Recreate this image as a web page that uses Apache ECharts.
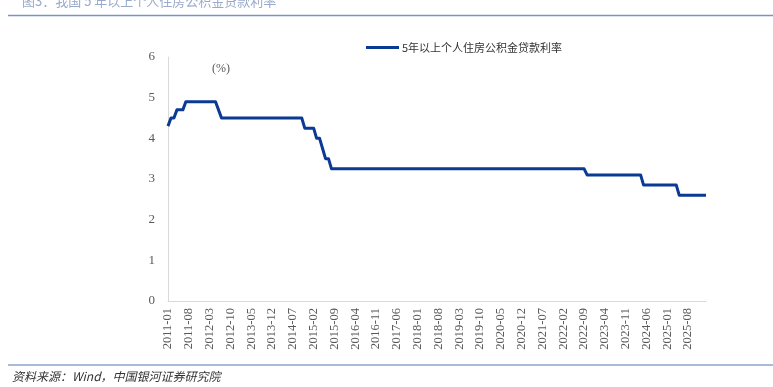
<!DOCTYPE html>
<html>
<head>
<meta charset="utf-8">
<script src="https://cdn.jsdelivr.net/npm/echarts@6/dist/echarts.min.js"></script>
<style>html,body{margin:0;padding:0;background:#fff;}#c{width:773px;height:387px;}</style>
</head>
<body>
<div id="c"></div>
<script>
var seriesName = '5年以上个人住房公积金贷款利率';
var startYear = 2011, endYear = 2026, endMonth = 2;
var categories = [];
for (var y = startYear; y <= endYear; y++) {
  for (var m = 1; m <= 12; m++) {
    if (y === endYear && m > endMonth) break;
    categories.push(y + '-' + (m < 10 ? '0' + m : m));
  }
}
var rate2011 = [4.3, 4.5, 4.5, 4.7, 4.7, 4.7, 4.9, 4.9, 4.9, 4.9, 4.9, 4.9];
var rate2012 = [4.9, 4.9, 4.9, 4.9, 4.9, 4.7, 4.5, 4.5, 4.5, 4.5, 4.5, 4.5];
var rate2013 = [4.5, 4.5, 4.5, 4.5, 4.5, 4.5, 4.5, 4.5, 4.5, 4.5, 4.5, 4.5];
var rate2014 = [4.5, 4.5, 4.5, 4.5, 4.5, 4.5, 4.5, 4.5, 4.5, 4.5, 4.25, 4.25];
var rate2015 = [4.25, 4.25, 4.0, 4.0, 3.75, 3.5, 3.5, 3.25, 3.25, 3.25, 3.25, 3.25];
var rate2016 = [3.25, 3.25, 3.25, 3.25, 3.25, 3.25, 3.25, 3.25, 3.25, 3.25, 3.25, 3.25];
var rate2017 = [3.25, 3.25, 3.25, 3.25, 3.25, 3.25, 3.25, 3.25, 3.25, 3.25, 3.25, 3.25];
var rate2018 = [3.25, 3.25, 3.25, 3.25, 3.25, 3.25, 3.25, 3.25, 3.25, 3.25, 3.25, 3.25];
var rate2019 = [3.25, 3.25, 3.25, 3.25, 3.25, 3.25, 3.25, 3.25, 3.25, 3.25, 3.25, 3.25];
var rate2020 = [3.25, 3.25, 3.25, 3.25, 3.25, 3.25, 3.25, 3.25, 3.25, 3.25, 3.25, 3.25];
var rate2021 = [3.25, 3.25, 3.25, 3.25, 3.25, 3.25, 3.25, 3.25, 3.25, 3.25, 3.25, 3.25];
var rate2022 = [3.25, 3.25, 3.25, 3.25, 3.25, 3.25, 3.25, 3.25, 3.25, 3.1, 3.1, 3.1];
var rate2023 = [3.1, 3.1, 3.1, 3.1, 3.1, 3.1, 3.1, 3.1, 3.1, 3.1, 3.1, 3.1];
var rate2024 = [3.1, 3.1, 3.1, 3.1, 2.85, 2.85, 2.85, 2.85, 2.85, 2.85, 2.85, 2.85];
var rate2025 = [2.85, 2.85, 2.85, 2.85, 2.6, 2.6, 2.6, 2.6, 2.6, 2.6, 2.6, 2.6];
var rate2026 = [2.6, 2.6];
var rates = [].concat(rate2011, rate2012, rate2013, rate2014, rate2015, rate2016, rate2017,
  rate2018, rate2019, rate2020, rate2021, rate2022, rate2023, rate2024, rate2025, rate2026);
var yTicks = [0, 1, 2, 3, 4, 5, 6];

var serif = '"Liberation Serif", "DejaVu Serif", serif';
var cjk = '"Noto Sans CJK SC", "Noto Sans", sans-serif';
var chart = echarts.init(document.getElementById('c'), null, {renderer: 'canvas'});
chart.setOption({
  animation: false,
  backgroundColor: '#ffffff',
  grid: {left: 168, right: 67, top: 57, bottom: 86, containLabel: false},
  legend: {
    data: [{name: seriesName, icon: 'rect'}],
    left: 361, top: 37,
    itemWidth: 33, itemHeight: 3, itemGap: 3,
    textStyle: {fontFamily: cjk, fontSize: 11, color: '#333333', padding: [0, 0, 0, -2]}
  },
  xAxis: {
    type: 'category',
    data: categories,
    boundaryGap: false,
    axisLine: {show: true, lineStyle: {color: '#d9d9d9', width: 1}},
    axisTick: {show: false},
    axisLabel: {
      interval: 6, rotate: 90, margin: 7,
      fontFamily: serif, fontSize: 12.5, color: '#595959'
    },
    splitLine: {show: false}
  },
  yAxis: {
    type: 'value',
    min: yTicks[0], max: yTicks[yTicks.length - 1], interval: 1,
    axisLine: {show: true, lineStyle: {color: '#d9d9d9', width: 1}},
    axisTick: {show: false},
    axisLabel: {margin: 13, fontFamily: serif, fontSize: 13, color: '#595959'},
    splitLine: {show: false}
  },
  series: [{
    name: seriesName,
    type: 'line',
    data: rates,
    showSymbol: false,
    symbol: 'none',
    lineStyle: {color: '#0b3a95', width: 3, join: 'round'},
    itemStyle: {color: '#0b3a95'}
  }],
  graphic: [
    {type: 'text', left: 22, top: -5, style: {text: '图3：我国 5 年以上个人住房公积金贷款利率', font: '13px ' + cjk, fill: '#9aaacb'}},
    {type: 'line', shape: {x1: 8, y1: 15.5, x2: 773, y2: 15.5}, style: {stroke: '#7a93c0', lineWidth: 1.5}},
    {type: 'text', left: 212, top: 63, style: {text: '(%)', font: '12px ' + serif, fill: '#595959'}},
    {type: 'line', shape: {x1: 8, y1: 365, x2: 773, y2: 365}, style: {stroke: '#a9bada', lineWidth: 2}},
    {type: 'text', left: 12, top: 370, style: {text: '资料来源：Wind，中国银河证券研究院', font: 'italic 12px ' + cjk, fill: '#333333'}}
  ]
});
</script>
</body>
</html>
